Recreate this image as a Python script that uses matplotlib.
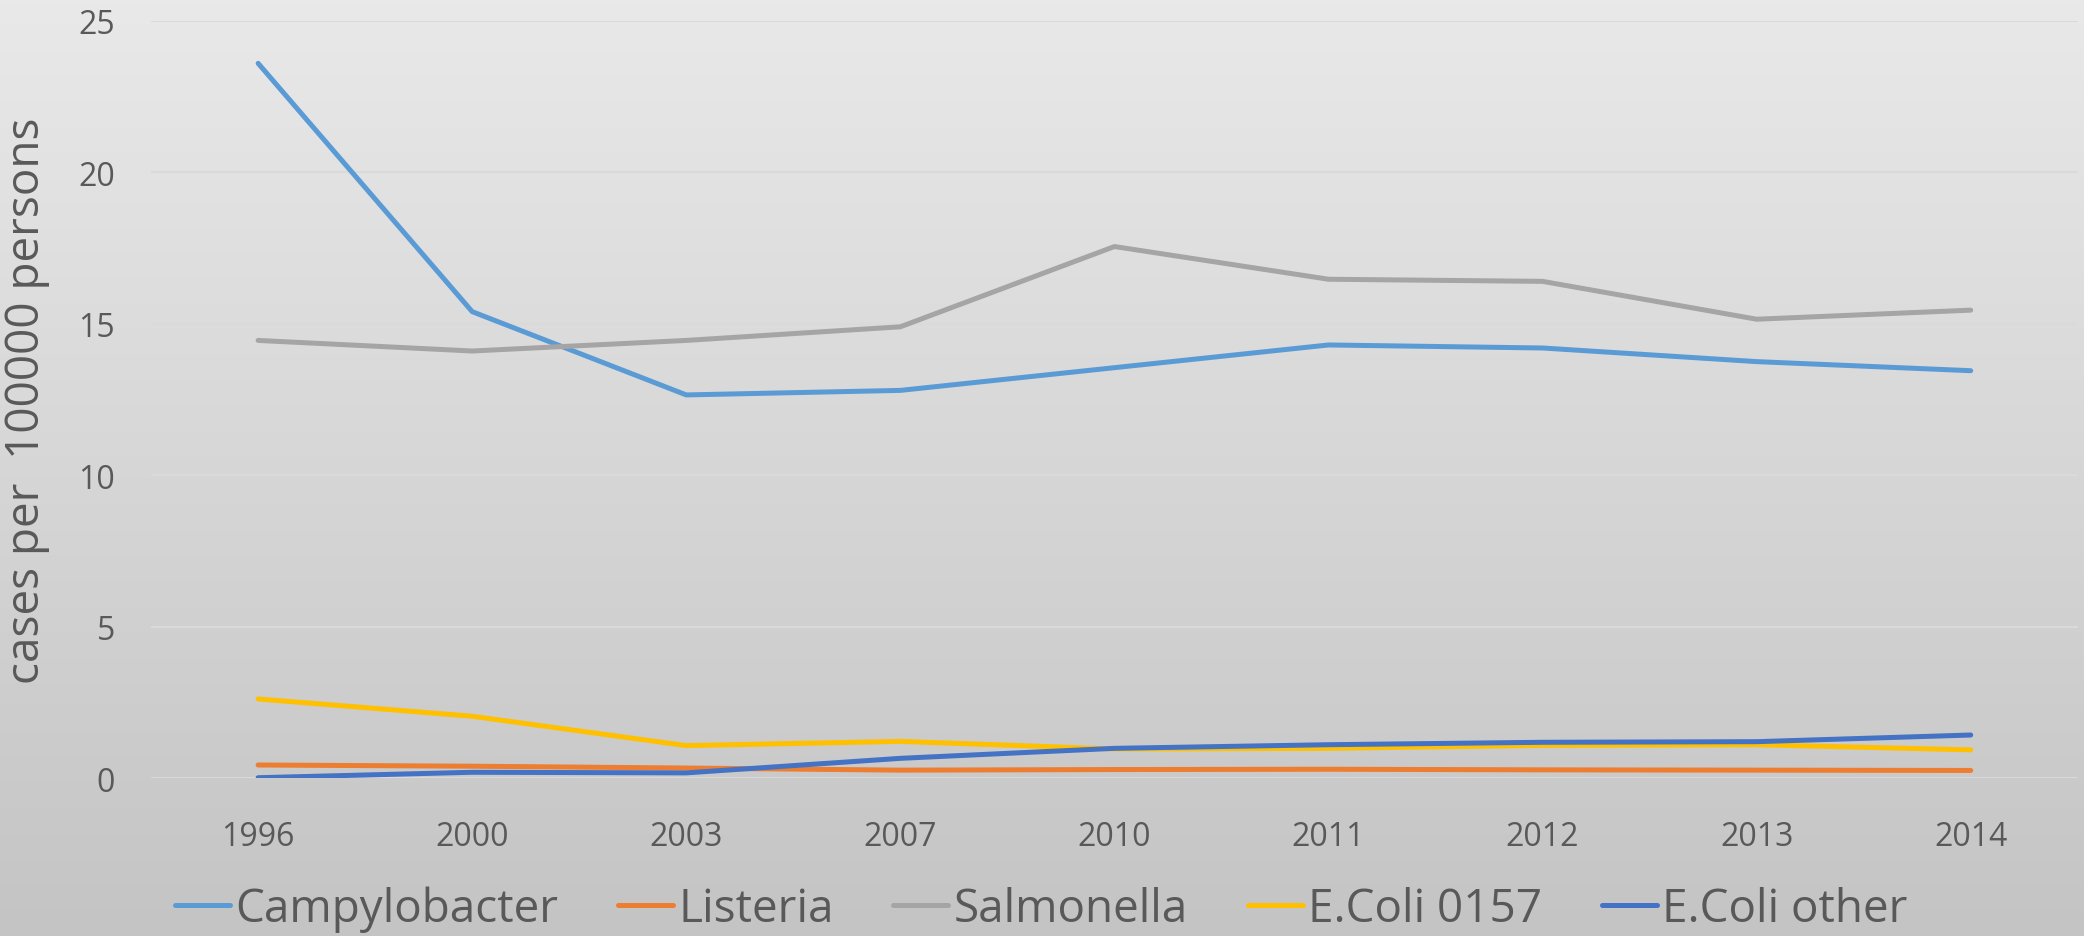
import matplotlib
matplotlib.use("Agg")
import matplotlib.pyplot as plt
import numpy as np

# Datos
years = ["1996", "2000", "2003", "2007", "2010", "2011", "2012", "2013", "2014"]
campylobacter = [23.6, 15.4, 12.65, 12.8, 13.55, 14.3, 14.2, 13.75, 13.45]
listeria = [0.43, 0.39, 0.33, 0.26, 0.28, 0.29, 0.27, 0.26, 0.25]
salmonella = [14.45, 14.1, 14.45, 14.9, 17.55, 16.47, 16.4, 15.15, 15.45]
ecoli_0157 = [2.61, 2.04, 1.07, 1.21, 0.96, 0.98, 1.08, 1.10, 0.93]
ecoli_other = [0.01, 0.19, 0.17, 0.65, 0.98, 1.10, 1.18, 1.20, 1.42]

series = [
    ("Campylobacter", campylobacter, "#5B9BD5"),
    ("Listeria", listeria, "#ED7D31"),
    ("Salmonella", salmonella, "#A5A5A5"),
    ("E.Coli 0157", ecoli_0157, "#FFC000"),
    ("E.Coli other", ecoli_other, "#4472C4"),
]

plt.rcParams["font.family"] = ["Open Sans", "DejaVu Sans"]
text_color = "#595959"

fig = plt.figure(figsize=(20.84, 9.37), dpi=100)

# Fondo degradado
bg = fig.add_axes([0, 0, 1, 1], zorder=-10)
grad = np.linspace(0, 1, 256).reshape(-1, 1)
bg.imshow(grad, aspect="auto", cmap=matplotlib.colors.LinearSegmentedColormap.from_list(
    "bg", ["#e9e9e9", "#c4c4c4"]), extent=[0, 1, 0, 1], origin="upper")
bg.axis("off")

ax = fig.add_axes([0.0725, 0.1686, 0.9245, 0.808])
ax.patch.set_alpha(0)

x = np.arange(len(years))
for name, vals, color in series:
    ax.plot(x, vals, color=color, lw=3.6, label=name, solid_capstyle="round")

ax.set_xlim(-0.5, len(years) - 0.5)
ax.set_ylim(0, 25)
ax.set_yticks([0, 5, 10, 15, 20, 25])
ax.set_xticks(x)
ax.set_xticklabels(years)
ax.yaxis.grid(True, color="#dadada", lw=1.5)
ax.set_axisbelow(True)
for s in ax.spines.values():
    s.set_visible(False)
ax.tick_params(length=0, labelsize=23, colors=text_color)
ax.tick_params(axis="y", pad=26)
ax.tick_params(axis="x", pad=30)

ax.set_ylabel("cases per  100000 persons", fontsize=33, color=text_color, labelpad=20)

ax.legend(loc="center", bbox_to_anchor=(0.462, -0.173), ncol=5, frameon=False,
          fontsize=33, labelcolor=text_color, handlelength=1.2, handletextpad=0.12,
          columnspacing=1.3)

plt.savefig("out.png", dpi=100)
